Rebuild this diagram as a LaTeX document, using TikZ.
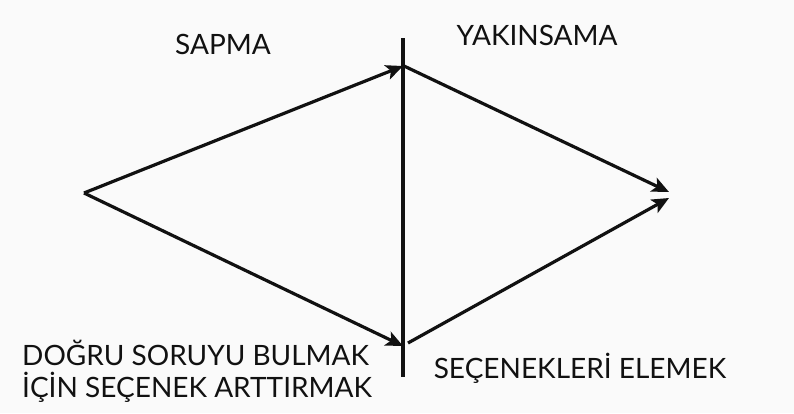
\documentclass[tikz,border=0pt]{standalone}
\usepackage{fontspec}
\setmainfont{Lato}
\usetikzlibrary{arrows.meta}
\definecolor{bg}{HTML}{FAFAFA}
\definecolor{ink}{HTML}{111111}
\tikzset{
  ln/.style={draw=ink, line width=3.2pt},
  arr/.style={ln, -{Stealth[length=17pt,width=15pt,inset=4pt]}},
  lbl/.style={font=\fontsize{28}{32}\selectfont, text=ink, inner sep=0pt}
}
\begin{document}
\begin{tikzpicture}[x=1pt,y=-1pt]
\fill[bg] (0,0) rectangle (794,413);
\useasboundingbox (0,0) rectangle (794,413);
\coordinate (L) at (84,193);
\coordinate (T) at (403,66);
\coordinate (Ts) at (404,66);
\coordinate (B) at (403,346);
\coordinate (Bs) at (408,343);
\coordinate (R1) at (669,192);
\coordinate (R2) at (669,198);
\coordinate (V1) at (403,38);
\coordinate (V2) at (403,377);
\draw[ln] (V1) -- (V2);
\draw[arr] (L) -- (T);
\draw[arr] (L) -- (B);
\draw[arr] (Ts) -- (R1);
\draw[arr] (Bs) -- (R2);
\node[lbl] (sapma) at (223,44) {SAPMA};
\node[lbl] (yak) at (537,35) {YAKINSAMA};
\node[lbl, align=left, anchor=north west] (dogru) at (22,340) {DOĞRU SORUYU BULMAK\\İÇİN SEÇENEK ARTTIRMAK};
\node[lbl] (sec) at (580,368) {SEÇENEKLERİ ELEMEK};
\end{tikzpicture}
\end{document}
